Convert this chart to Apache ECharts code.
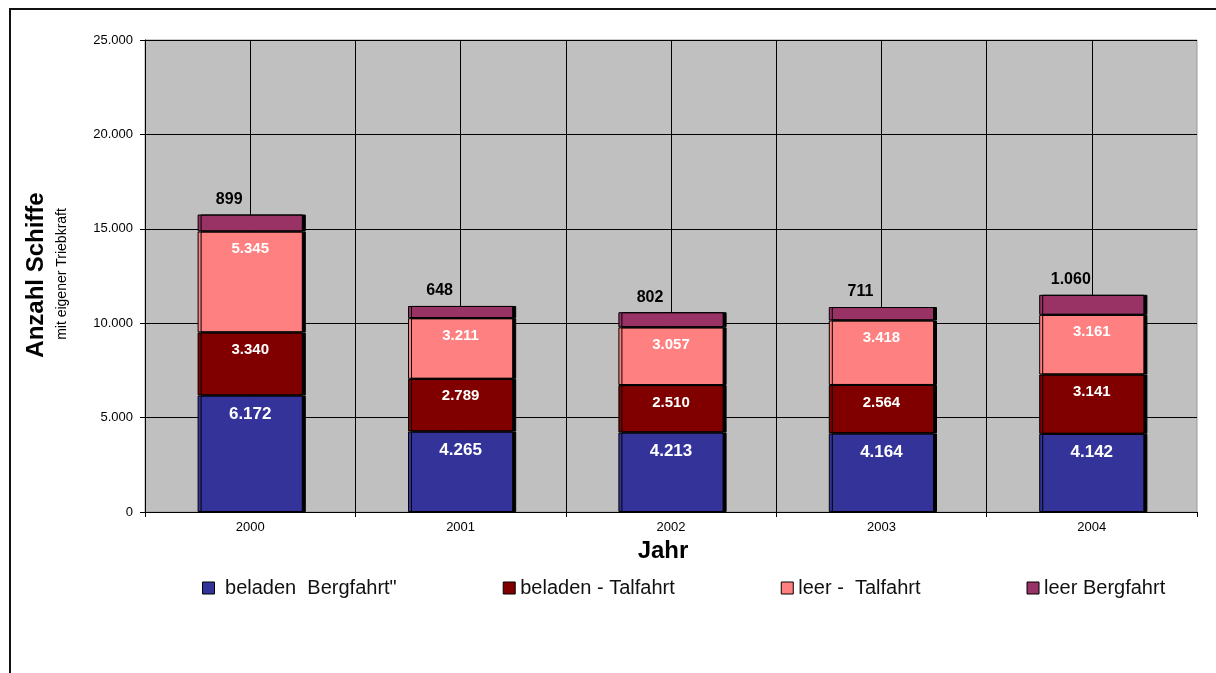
<!DOCTYPE html>
<html>
<head>
<meta charset="utf-8">
<script src="https://cdn.jsdelivr.net/npm/echarts@6/dist/echarts.min.js"></script>
<style>
    html, body { margin: 0; padding: 0; background: #fff; }
    #chart { width: 1216px; height: 673px; }
</style>
</head>
<body>
<div id="chart"></div>
<script>
const YEARS = ["2000", "2001", "2002", "2003", "2004"]
const BELADEN_BERG = [6172, 4265, 4213, 4164, 4142]
const BELADEN_TAL = [3340, 2789, 2510, 2564, 3141]
const LEER_TAL = [5345, 3211, 3057, 3418, 3161]
const LEER_BERG = [899, 648, 802, 711, 1060]
const SERIES_NAMES = [' beladen  Bergfahrt"', "beladen - Talfahrt", "leer -  Talfahrt", "leer Bergfahrt"]
const Y_MAX = 25000
const Y_STEP = 5000

const FONT = "'Liberation Sans', Arial, sans-serif"
const COLORS = ["#333399", "#800000", "#FF8080", "#993366"]

// Tausenderpunkt wie im Original
function fmt(v) {
    return String(v).replace(/\B(?=(\d{3})+(?!\d))/g, ".")
}

function barSeries(name, data, color, labelOpt) {
    return {
        name: name,
        type: "bar",
        stack: "total",
        barWidth: "50%",
        xAxisIndex: 0,
        data: data,
        itemStyle: {
            color: color,
            borderColor: "#000",
            borderWidth: 1,
            shadowColor: "#000",
            shadowOffsetX: 3,
            shadowOffsetY: 0,
            shadowBlur: 0,
        },
        label: labelOpt,
        emphasis: { disabled: true },
    }
}

const whiteLabel = size => ({
    show: true,
    position: "insideTop",
    distance: 10,
    color: "#fff",
    fontWeight: "bold",
    fontSize: size,
    fontFamily: FONT,
    formatter: p => fmt(p.value),
})

const myChart = echarts.init(document.getElementById("chart"))
myChart.setOption({
    backgroundColor: "#fff",
    animation: false,
    grid: {
        left: 145,
        right: 19,
        top: 40,
        bottom: 161,
        show: true,
        backgroundColor: "#C0C0C0",
        borderColor: "#9a9a9a",
        borderWidth: 1,
    },
    legend: {
        left: 197,
        top: 573,
        itemWidth: 12,
        itemHeight: 12,
        itemGap: 106,
        icon: "rect",
        itemStyle: { borderColor: "#000", borderWidth: 1 },
        textStyle: { fontSize: 20, fontFamily: FONT, color: "#111" },
        data: SERIES_NAMES,
    },
    xAxis: [
        {
            type: "category",
            data: YEARS,
            boundaryGap: true,
            axisLine: { lineStyle: { color: "#000", width: 1 } },
            axisTick: { show: true, length: 5, lineStyle: { color: "#000" } },
            splitLine: { show: false },
            axisLabel: { fontSize: 13, fontFamily: FONT, color: "#000", margin: 9 },
            name: "Jahr",
            nameLocation: "middle",
            nameGap: 25,
            nameTextStyle: {
                fontSize: 24,
                fontWeight: "bold",
                fontFamily: FONT,
                color: "#000",
                padding: [0, 16, 0, 0],
            },
        },
        {
            // halbe Kategorien -> senkrechte Gitterlinien wie in Excel
            type: "value",
            position: "bottom",
            min: 0,
            max: YEARS.length * 2,
            interval: 1,
            axisLine: { show: false },
            axisTick: { show: false },
            axisLabel: { show: false },
            splitLine: {
                show: true,
                showMinLine: true,
                showMaxLine: false,
                lineStyle: { color: "#000", width: 1 },
            },
        },
    ],
    yAxis: {
        type: "value",
        min: 0,
        max: Y_MAX,
        interval: Y_STEP,
        axisLine: { show: true, lineStyle: { color: "#000" } },
        axisTick: { show: true, length: 5, lineStyle: { color: "#000" } },
        axisLabel: { fontSize: 13, fontFamily: FONT, color: "#000", margin: 12, formatter: v => fmt(v) },
        splitLine: { show: true, lineStyle: { color: "#000", width: 1 } },
    },
    graphic: [
        {
            type: "rect",
            silent: true,
            z: 100,
            shape: { x: 10, y: 9, width: 1400, height: 900 },
            style: { fill: "none", stroke: "#111", lineWidth: 2 },
        },
        {
            type: "text",
            x: 36,
            y: 275,
            rotation: Math.PI / 2,
            style: {
                text: "Anzahl Schiffe",
                fontSize: 24,
                fontWeight: "bold",
                fontFamily: FONT,
                fill: "#000",
                textAlign: "center",
                textVerticalAlign: "middle",
            },
        },
        {
            type: "text",
            x: 62,
            y: 274,
            rotation: Math.PI / 2,
            style: {
                text: "mit eigener Triebkraft",
                fontSize: 14,
                fontFamily: FONT,
                fill: "#000",
                textAlign: "center",
                textVerticalAlign: "middle",
            },
        },
    ],
    series: [
        barSeries(SERIES_NAMES[0], BELADEN_BERG, COLORS[0], whiteLabel(17)),
        barSeries(SERIES_NAMES[1], BELADEN_TAL, COLORS[1], whiteLabel(15)),
        barSeries(SERIES_NAMES[2], LEER_TAL, COLORS[2], whiteLabel(15)),
        barSeries(SERIES_NAMES[3], LEER_BERG, COLORS[3], {
            show: true,
            position: "top",
            distance: 7,
            offset: [-21, 0],
            color: "#000",
            fontWeight: "bold",
            fontSize: 16,
            fontFamily: "'Liberation Sans Narrow', 'Arial Narrow', " + FONT,
            formatter: p => fmt(p.value),
        }),
    ],
})
window.addEventListener("resize", function () {
    myChart.resize()
})
</script>
</body>
</html>
